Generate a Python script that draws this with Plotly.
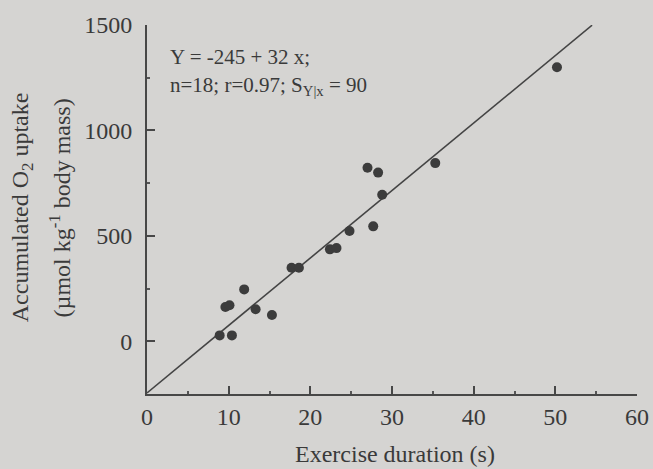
import plotly.graph_objects as go

# Exercise duration (s) and accumulated O2 uptake (µmol kg-1 body mass)
duration = [8.9, 10.4, 9.6, 10.1, 11.9, 13.3, 15.3, 17.7, 18.6, 22.4,
            23.2, 24.8, 27.7, 28.8, 27.0, 28.3, 35.3, 50.2]
o2_uptake = [28, 28, 163, 171, 246, 152, 125, 349, 349, 436,
             442, 523, 545, 695, 823, 800, 845, 1300]

# Regression: Y = -245 + 32 x
intercept = -245
slope = 32
line_x = [0, 54.5]
line_y = [intercept + slope * v for v in line_x]

bg = "#d5d4d2"
ink = "#3a3a3a"
axis_col = "#474747"
font = "Liberation Serif"

fig = go.Figure()
fig.add_trace(go.Scatter(x=line_x, y=line_y, mode="lines",
                         line=dict(color="#444444", width=1.6),
                         showlegend=False, hoverinfo="skip"))
fig.add_trace(go.Scatter(x=duration, y=o2_uptake, mode="markers",
                         marker=dict(color="#3c3c3c", size=10),
                         showlegend=False))

# Regression summary, two lines
fig.add_annotation(
    x=0.043, y=0.912, xref="paper", yref="paper", xanchor="left", yanchor="middle",
    showarrow=False, text="Y = -245 + 32 x;",
    font=dict(family=font, size=21, color=ink),
)
fig.add_annotation(
    x=0.043, y=0.835, xref="paper", yref="paper", xanchor="left", yanchor="middle",
    showarrow=False, text="n=18; r=0.97; S<sub>Y|x</sub> = 90",
    font=dict(family=font, size=21, color=ink),
)

# Two-line y-axis title
fig.add_annotation(
    x=-0.256, y=0.505, xref="paper", yref="paper", xanchor="center", yanchor="middle",
    textangle=-90, showarrow=False,
    text="Accumulated O<sub>2</sub> uptake",
    font=dict(family=font, size=24, color=ink),
)
fig.add_annotation(
    x=-0.178, y=0.505, xref="paper", yref="paper", xanchor="center", yanchor="middle",
    textangle=-90, showarrow=False,
    text="(µmol kg<sup>-1</sup> body mass)",
    font=dict(family=font, size=24, color=ink),
)

# x-axis title
fig.add_annotation(
    x=0.506, y=-0.163, xref="paper", yref="paper", xanchor="center", yanchor="middle",
    showarrow=False, text="Exercise duration (s)",
    font=dict(family=font, size=24, color=ink),
)

fig.update_layout(
    width=653, height=469,
    margin=dict(l=147, r=16, t=25, b=75, autoexpand=False),
    paper_bgcolor=bg, plot_bgcolor=bg,
    font=dict(family=font, color=ink, size=24),
    xaxis=dict(
        range=[0, 60], tickvals=[0, 10, 20, 30, 40, 50, 60],
        showgrid=False, zeroline=False, showline=True, automargin=False,
        linecolor=axis_col, linewidth=2,
        ticks="inside", ticklen=8, tickwidth=2, tickcolor=axis_col,
        minor=dict(ticks="inside", ticklen=3, dtick=5, tickcolor="#555555"),
    ),
    yaxis=dict(
        range=[-250, 1500], tickvals=[0, 500, 1000, 1500],
        showgrid=False, zeroline=False, showline=True, automargin=False,
        linecolor=axis_col, linewidth=2,
        ticks="inside", ticklen=8, tickwidth=2, tickcolor=axis_col,
        ticklabelstandoff=8,
        minor=dict(ticks="inside", ticklen=3, dtick=250, tickcolor="#555555"),
    ),
)

fig.write_html("out.html")
